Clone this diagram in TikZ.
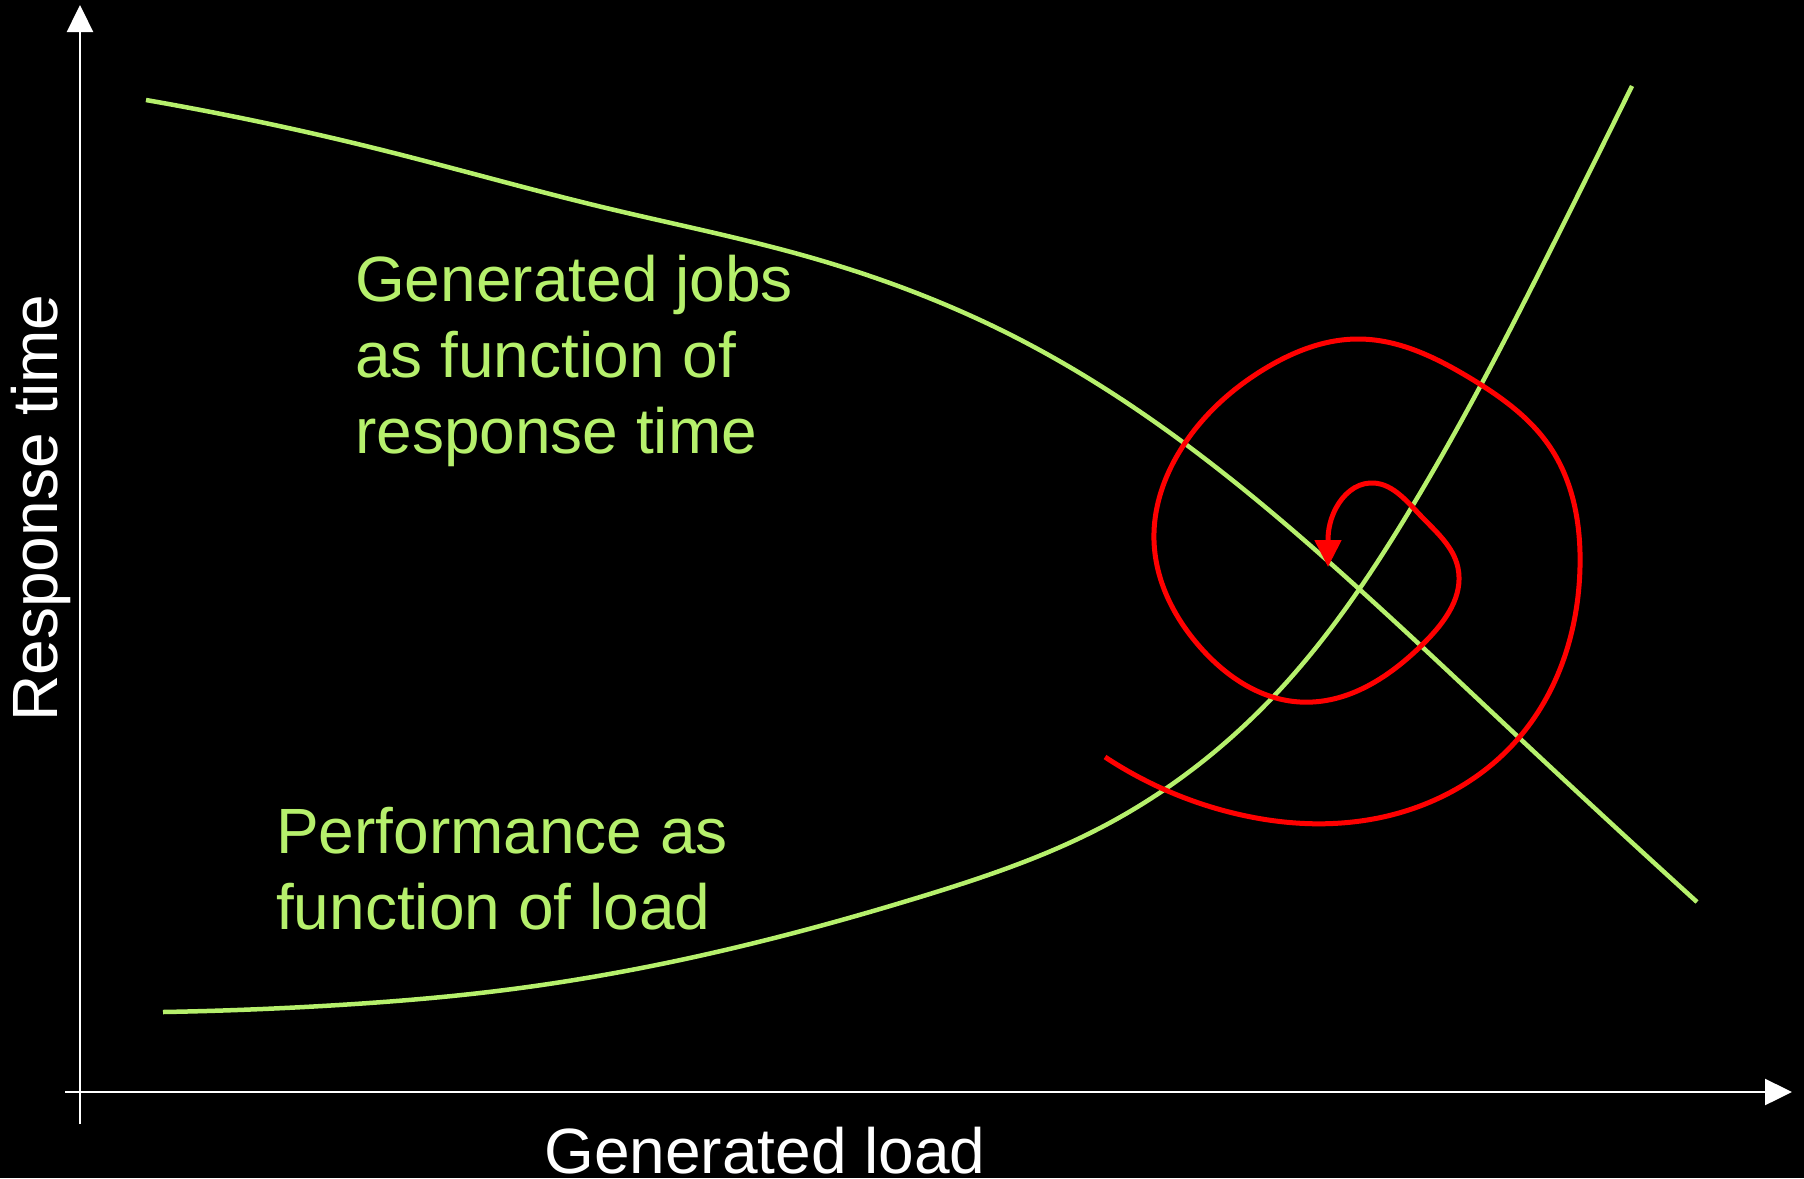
\documentclass[tikz,border=0pt]{standalone}
\usepackage{fontspec}
\setmainfont{Liberation Sans}
\usetikzlibrary{arrows.meta,hobby}
\definecolor{curvegreen}{RGB}{182,240,108}
\definecolor{spiralred}{RGB}{255,0,0}
\begin{document}
\begin{tikzpicture}[x=1pt,y=-1pt,
  axisline/.style={draw=white,line width=2.4pt},
  axistip/.style={-{Triangle[width=26pt,length=27pt]}},
  curve/.style={draw=curvegreen,line width=4.5pt,line cap=butt,use Hobby shortcut},
  curvetext/.style={text=curvegreen,inner sep=0pt,align=left,font=\fontsize{64}{76}\selectfont},
  axislabel/.style={text=white,inner sep=0pt,font=\fontsize{64}{76}\selectfont},
  feedback/.style={draw=spiralred,line width=5pt,line join=round,use Hobby shortcut}]
% black page
\fill[black] (0,0) rectangle (1804,1178);
\useasboundingbox (0,0) rectangle (1804,1178);

% axes
\coordinate (ybot) at (80,1124);
\coordinate (ytop) at (80,5);
\coordinate (xleft) at (65,1092);
\coordinate (xright) at (1792,1092);
\draw[axisline,axistip,white] (ybot) -- (ytop);
\draw[axisline,axistip,white] (xleft) -- (xright);

% generated jobs as a function of response time
\draw[curve] (146,100) .. (382,150) .. (602,207) .. (809,257) .. (1015,337)
  .. (1200,455) .. (1358,588) .. (1530,748) .. (1697,902);

% response time as a function of load
\draw[curve] (163,1012) .. (339,1005) .. (505,990) .. (671,962) .. (920,897)
  .. (1102,827) .. (1273,697) .. (1413,505) .. (1482,383) .. (1557,237) .. (1632,86);

% spiral converging to the operating point, ending in a downward tip
\coordinate (spiraltip) at (1328,567);
\draw[feedback,-{Triangle[width=26pt,length=27pt]},spiralred]
  (1105,757) .. (1233,813) .. (1383,817) .. (1517,740) .. (1580,567)
  .. (1550,447) .. (1470,378) .. (1358,339) .. (1266,368) .. (1185,443)
  .. (1154,541) .. (1200,647) .. (1300,702) .. (1425,642) .. (1458,568)
  .. (1420,515) .. (1370,483) .. (1336,508) .. (1328,540) -- (spiraltip);

% labels
\node[curvetext,anchor=base west] (jobs) at (355,453)
  {Generated jobs\\as function of\\response time};
\node[curvetext,anchor=base west] (perf) at (276,929)
  {Performance as\\function of load};
\node[axislabel,anchor=base] (xlabel) at (765,1173) {Generated load};
\node[axislabel,anchor=base,rotate=90] (ylabel) at (57,508) {Response time};
\end{tikzpicture}
\end{document}
